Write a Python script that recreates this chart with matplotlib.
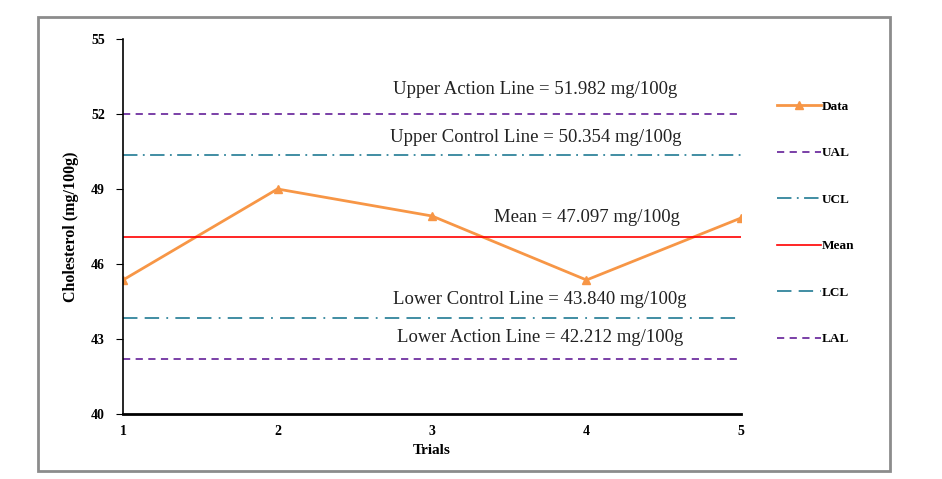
import matplotlib.pyplot as plt
from matplotlib.patches import Rectangle

# data
trials = [1, 2, 3, 4, 5]
cholesterol = [45.36, 49.0, 47.92, 45.36, 47.84]

# control limits (mg/100g)
ual = 51.982
ucl = 50.354
mean = 47.097
lcl = 43.840
lal = 42.212

label_texts = ["Upper Action Line = 51.982 mg/100g",
               "Upper Control Line = 50.354 mg/100g",
               "Mean = 47.097 mg/100g",
               "Lower Control Line = 43.840 mg/100g",
               "Lower Action Line = 42.212 mg/100g"]
label_y = [52.96, 51.08, 47.84, 44.56, 43.04]
label_x = [3.67, 3.67, 4.0, 3.70, 3.70]

y_ticks = [40, 43, 46, 49, 52, 55]

plt.rcParams['font.family'] = ['Liberation Serif', 'DejaVu Serif']

fig = plt.figure(figsize=(9.42, 4.79), dpi=100)
# grey frame round the whole chart
fig.patches.append(Rectangle((38 / 942, 1 - 471 / 479), (890 - 38) / 942, (471 - 17) / 479,
                             transform=fig.transFigure, fill=False,
                             edgecolor='#8c8c8c', linewidth=2))

ax = fig.add_axes([123 / 942, 65 / 479, 618 / 942, 375 / 479])

ax.plot(trials, cholesterol, color='#F79646', marker='^', markersize=6, linewidth=2, label='Data')
ax.axhline(ual, color='#7030A0', linestyle=(0, (4, 3)), linewidth=1.3, label='UAL')
ax.axhline(ucl, color='#31859C', linestyle=(0, (8, 3, 1, 3)), linewidth=1.3, label='UCL')
ax.axhline(mean, color='#FF0000', linewidth=1.2, label='Mean')
ax.axhline(lcl, color='#31859C', linestyle=(0, (8, 4, 8, 4, 1, 4)), linewidth=1.3, label='LCL')
ax.axhline(lal, color='#7030A0', linestyle=(0, (4, 3)), linewidth=1.3, label='LAL')

for t, x, y in zip(label_texts, label_x, label_y):
    ax.text(x, y, t, ha='center', va='center', fontsize=13.5, color='#222222')

ax.set_xlim(1, 5)
ax.set_ylim(40, 55)
ax.set_xticks(trials)
ax.set_yticks(y_ticks)
ax.tick_params(axis='x', length=0, pad=8, labelsize=10)
ax.tick_params(axis='y', length=5, direction='out', labelsize=10, pad=8)
for lab in ax.get_xticklabels() + ax.get_yticklabels():
    lab.set_fontweight('bold')
ax.spines['top'].set_visible(False)
ax.spines['right'].set_visible(False)
ax.spines['bottom'].set_linewidth(2)
ax.spines['left'].set_linewidth(1.2)

ax.set_xlabel('Trials', fontsize=11, fontweight='bold', labelpad=4)
ax.set_ylabel('Cholesterol (mg/100g)', fontsize=11.5, fontweight='bold', labelpad=9)

leg = ax.legend(loc='upper left', bbox_to_anchor=(1.05, 0.85), frameon=False,
                prop={'weight': 'bold', 'size': 9.5}, labelspacing=2.6,
                handlelength=3.3, handletextpad=0.1, borderaxespad=0)

fig.savefig('out.png', dpi=100)
